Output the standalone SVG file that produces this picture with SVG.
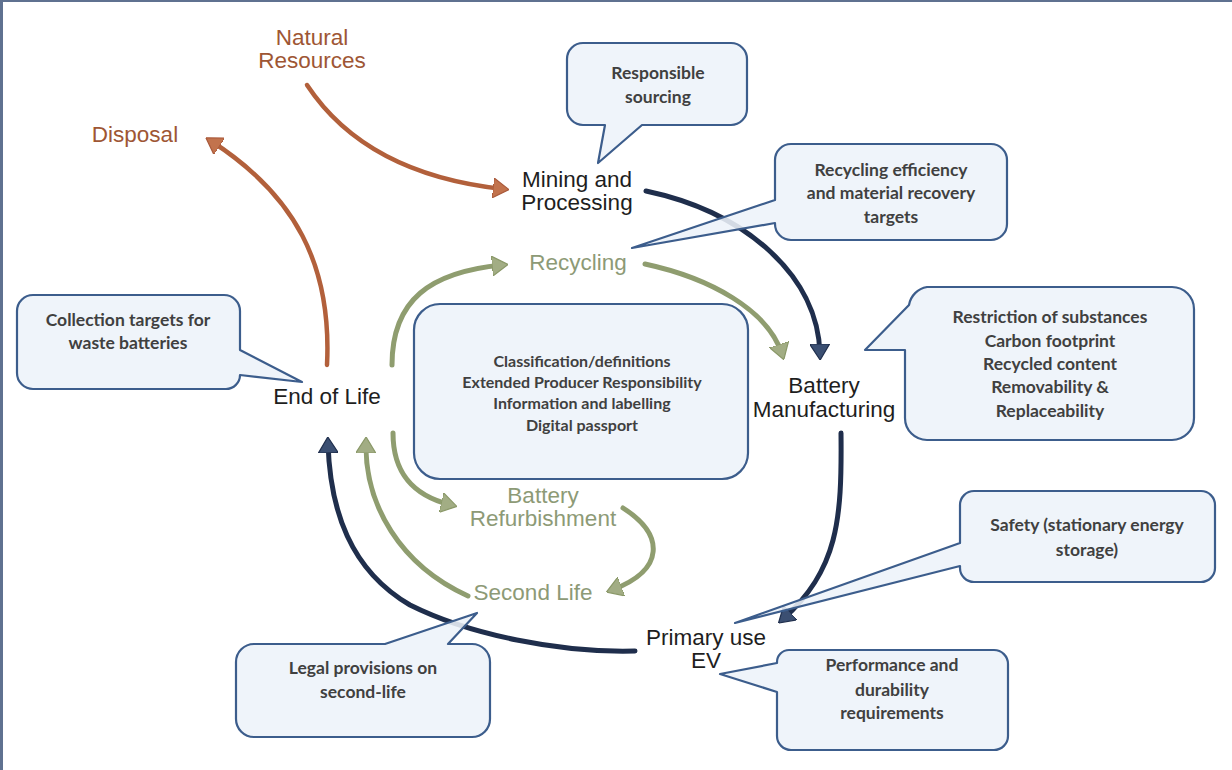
<svg xmlns="http://www.w3.org/2000/svg" width="1232" height="770" viewBox="0 0 1232 770">
<style>
.lbl{font-family:"Liberation Sans",Arial,sans-serif;font-size:22.5px;text-anchor:middle}
.blk{fill:#1e1e1e}
.brn{fill:#9e5634}
.grn{fill:#8d9a76}
.co{fill:#edf2f9;fill-opacity:0.88;stroke:#3c5d8c;stroke-width:2.2;stroke-linejoin:round}
.ct{font-family:Lato,"Open Sans",sans-serif;font-weight:700;font-size:17.5px;fill:#404040;text-anchor:middle}
.cs{font-size:16px}
.a{fill:none;stroke-linecap:round}
.navy{stroke:#1f2e4c;stroke-width:5}
.green{stroke:#8f9d6f;stroke-width:5}
.brown{stroke:#b2603b;stroke-width:4.5}
</style>
<defs>
<marker id="mNavy" viewBox="0 0 16 20" refX="10" refY="10" markerWidth="16" markerHeight="20" markerUnits="userSpaceOnUse" orient="auto"><path d="M0,0 L16,10 L0,20 Z" fill="#3b4f72" stroke="#1f2e4c" stroke-width="1.2"/></marker>
<marker id="mGreen" viewBox="0 0 16 20" refX="10" refY="10" markerWidth="16" markerHeight="20" markerUnits="userSpaceOnUse" orient="auto"><path d="M0,0 L16,10 L0,20 Z" fill="#a2ad84" stroke="#8a9868" stroke-width="1.2"/></marker>
<marker id="mBrown" viewBox="0 0 16 20" refX="10" refY="10" markerWidth="16" markerHeight="20" markerUnits="userSpaceOnUse" orient="auto"><path d="M0,0 L16,10 L0,20 Z" fill="#c2734d" stroke="#a9593a" stroke-width="1.2"/></marker>
</defs>
<rect x="0" y="0" width="1232" height="770" fill="#ffffff"/>
<rect x="0" y="0" width="3" height="770" fill="#5f7190"/>
<rect x="0" y="0" width="1232" height="2" fill="#5f7190"/>

<g id="connectors">
<path class="a brown" d="M307,85 C350,150 420,180 503,189" marker-end="url(#mBrown)"/>
<path class="a brown" d="M327,365 C332,265 295,195 211,141" marker-end="url(#mBrown)"/>
<path class="a navy" d="M646,191 C745,212 818,275 820,354" marker-end="url(#mNavy)"/>
<path class="a navy" d="M841,433 C842,520 838,570 783,619" marker-end="url(#mNavy)"/>
<path class="a navy" d="M635,651 C560,653 470,635 410,605 C350,570 330,510 328,443" marker-end="url(#mNavy)"/>
<path class="a green" d="M392,365 C392,300 430,272 502,265" marker-end="url(#mGreen)"/>
<path class="a green" d="M645,264 C710,278 768,310 782,354" marker-end="url(#mGreen)"/>
<path class="a green" d="M393,433 C393,470 410,495 451,505" marker-end="url(#mGreen)"/>
<path class="a green" d="M623,508 C665,535 665,570 612,590" marker-end="url(#mGreen)"/>
<path class="a green" d="M468,596 C400,565 365,505 366,443" marker-end="url(#mGreen)"/>
</g>

<g id="natural-resources"><text class="lbl brn" x="312" y="45">Natural</text><text class="lbl brn" x="312" y="68">Resources</text></g>
<g id="disposal"><text class="lbl brn" x="135" y="142">Disposal</text></g>
<g id="mining"><text class="lbl blk" x="577" y="187">Mining and</text><text class="lbl blk" x="577" y="210">Processing</text></g>
<g id="recycling"><text class="lbl grn" x="578" y="270">Recycling</text></g>
<g id="battery-manufacturing"><text class="lbl blk" x="824" y="393">Battery</text><text class="lbl blk" x="824" y="417">Manufacturing</text></g>
<g id="end-of-life"><text class="lbl blk" x="327" y="404">End of Life</text></g>
<g id="refurbishment"><text class="lbl grn" x="543" y="503">Battery</text><text class="lbl grn" x="543" y="526">Refurbishment</text></g>
<g id="second-life"><text class="lbl grn" x="533" y="600">Second Life</text></g>
<g id="primary-use"><text class="lbl blk" x="706" y="645">Primary use</text><text class="lbl blk" x="706" y="668">EV</text></g>

<g id="callout-sourcing">
<path class="co" d="M583,43 H731 A16,16 0 0 1 747,59 V109 A16,16 0 0 1 731,125 H642 L598,163 L605,125 H583 A16,16 0 0 1 567,109 V59 A16,16 0 0 1 583,43 Z"/>
<text class="ct" x="658" y="79">Responsible</text><text class="ct" x="658" y="103">sourcing</text>
</g>
<g id="callout-recycling">
<path class="co" d="M791,144 H991 A16,16 0 0 1 1007,160 V224 A16,16 0 0 1 991,240 H791 A16,16 0 0 1 775,224 V223 L632,248 L775,200 V160 A16,16 0 0 1 791,144 Z"/>
<text class="ct" x="891" y="176">Recycling efficiency</text><text class="ct" x="891" y="199">and material recovery</text><text class="ct" x="891" y="223">targets</text>
</g>
<g id="callout-manufacturing">
<path class="co" d="M927,287 H1172 A22,22 0 0 1 1194,309 V418 A22,22 0 0 1 1172,440 H927 A22,22 0 0 1 905,418 V350 H865 L909,305 A22,22 0 0 1 927,287 Z"/>
<text class="ct" x="1050" y="323">Restriction of substances</text><text class="ct" x="1050" y="347">Carbon footprint</text><text class="ct" x="1050" y="370">Recycled content</text><text class="ct" x="1050" y="393">Removability &amp;</text><text class="ct" x="1050" y="417">Replaceability</text>
</g>
<g id="callout-collection">
<path class="co" d="M33,295 H224 A16,16 0 0 1 240,311 V350 L302,382 L240,375 A14,14 0 0 1 226,389 H33 A16,16 0 0 1 17,373 V311 A16,16 0 0 1 33,295 Z"/>
<text class="ct" x="128" y="326">Collection targets for</text><text class="ct" x="128" y="349">waste batteries</text>
</g>
<g id="central-box">
<rect class="co" x="414" y="304" width="334" height="175" rx="26"/>
<text class="ct cs" x="582" y="367">Classification/definitions</text><text class="ct cs" x="582" y="388">Extended Producer Responsibility</text><text class="ct cs" x="582" y="409">Information and labelling</text><text class="ct cs" x="582" y="431">Digital passport</text>
</g>
<g id="callout-second-life">
<path class="co" d="M254,644 H385 L477,613 L448,644 H472 A18,18 0 0 1 490,662 V719 A18,18 0 0 1 472,737 H254 A18,18 0 0 1 236,719 V662 A18,18 0 0 1 254,644 Z"/>
<text class="ct" x="363" y="674">Legal provisions on</text><text class="ct" x="363" y="698">second-life</text>
</g>
<g id="callout-safety">
<path class="co" d="M974,491 H1201 A14,14 0 0 1 1215,505 V568 A14,14 0 0 1 1201,582 H974 A14,14 0 0 1 960,568 V566 L735,623 L960,543 V505 A14,14 0 0 1 974,491 Z"/>
<text class="ct" x="1087" y="531">Safety (stationary energy</text><text class="ct" x="1087" y="556">storage)</text>
</g>
<g id="callout-performance">
<path class="co" d="M789,650 H994 A14,14 0 0 1 1008,664 V736 A14,14 0 0 1 994,750 H791 A14,14 0 0 1 777,736 V692 L720,674 L777,663 V662 A12,12 0 0 1 789,650 Z"/>
<text class="ct" x="892" y="671">Performance and</text><text class="ct" x="892" y="696">durability</text><text class="ct" x="892" y="719">requirements</text>
</g>
</svg>
